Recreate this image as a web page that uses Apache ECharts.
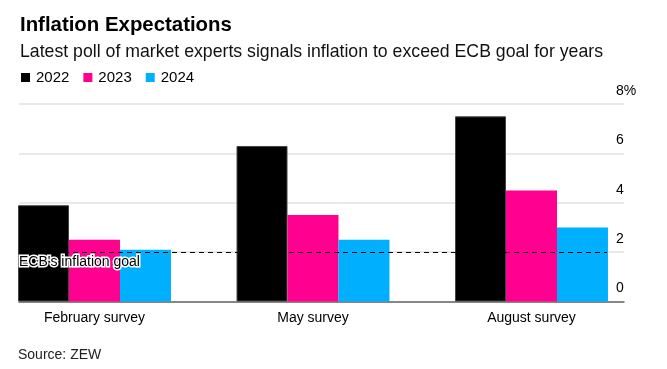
<!DOCTYPE html>
<html>
<head>
<meta charset="utf-8">
<script src="https://cdn.jsdelivr.net/npm/echarts@6/dist/echarts.min.js"></script>
<style>
html,body{margin:0;padding:0;background:#fff;}
#chart{width:667px;height:369px;}
</style>
</head>
<body>
<div id="chart"></div>
<script>
const categories = ['February survey', 'May survey', 'August survey'];
const years = ['2022', '2023', '2024'];
const values2022 = [3.9, 6.3, 7.5];
const values2023 = [2.5, 3.5, 4.5];
const values2024 = [2.1, 2.5, 3.0];
const goalValue = 2;
const goalLabel = "ECB's inflation goal";
const yTicks = [0, 2, 4, 6, 8];
const colors = ['#000000', '#ff0090', '#00b0ff'];

const FONT = "'Liberation Sans', Arial, sans-serif";
const chart = echarts.init(document.getElementById('chart'), null, {renderer: 'canvas'});

const gridTop = 104, gridBottom = 67.5;

const seriesValues = [values2022, values2023, values2024];
const barSeries = years.map((y, i) => ({
  name: y,
  type: 'bar',
  xAxisIndex: 0,
  yAxisIndex: 0,
  data: seriesValues[i],
  barGap: '0%',
  barCategoryGap: '30%',
  itemStyle: {
    color: colors[i],
    borderColor: i === 0 ? '#444' : colors[i],
    borderWidth: i === 0 ? 1 : 0
  },
  z: 3
}));

const option = {
  animation: false,
  backgroundColor: '#fff',
  textStyle: {fontFamily: FONT},
  title: [{
    text: 'Inflation Expectations',
    left: 15,
    top: 10,
    textStyle: {fontFamily: FONT, fontSize: 20.4, fontWeight: 'bold', color: '#000'}
  }, {
    text: 'Latest poll of market experts signals inflation to exceed ECB goal for years',
    left: 15,
    top: 38,
    textStyle: {fontFamily: FONT, fontSize: 17.7, fontWeight: 'normal', color: '#111'}
  }, {
    text: 'Source: ZEW',
    left: 13,
    top: 343,
    textStyle: {fontFamily: FONT, fontSize: 14, fontWeight: 'normal', color: '#222'}
  }],
  legend: {
    data: years,
    left: 16,
    top: 65,
    icon: 'rect',
    itemWidth: 9,
    itemHeight: 9,
    itemGap: 14,
    itemStyle: {borderWidth: 0},
    textStyle: {fontFamily: FONT, fontSize: 15, color: '#000', padding: [0, 0, 0, 1]}
  },
  grid: [
    {left: 94.5, right: 667 - 531.5, top: gridTop, bottom: gridBottom},
    {left: 19, right: 667 - 624, top: gridTop, bottom: gridBottom},
    {left: 19, right: 667 - 607, top: gridTop, bottom: gridBottom}
  ],
  xAxis: [{
    type: 'category',
    gridIndex: 0,
    data: categories,
    boundaryGap: false,
    axisLine: {show: false},
    axisTick: {show: false},
    axisLabel: {fontFamily: FONT, fontSize: 14, color: '#000', margin: 10}
  }, {
    type: 'value',
    gridIndex: 1,
    min: 0, max: 1,
    axisLine: {show: true, onZero: false, lineStyle: {color: '#666', width: 1.5}},
    axisTick: {show: false},
    axisLabel: {show: false},
    splitLine: {show: false}
  }, {
    type: 'value',
    gridIndex: 2,
    min: 0, max: 1,
    show: false
  }],
  yAxis: [{
    type: 'value',
    gridIndex: 0,
    min: 0, max: 8, interval: 2,
    show: false
  }, {
    type: 'value',
    gridIndex: 1,
    position: 'right',
    min: yTicks[0], max: yTicks[yTicks.length - 1], interval: 2,
    axisLine: {show: false},
    axisTick: {show: false},
    splitLine: {show: true, lineStyle: {color: '#e2e2e2', width: 1.5}},
    axisLabel: {
      fontFamily: FONT, fontSize: 14, color: '#000',
      margin: -8,
      align: 'left',
      verticalAlign: 'bottom',
      padding: [0, 0, 6, 0],
      formatter: v => (v === yTicks[yTicks.length - 1] ? v + '%' : String(v))
    }
  }, {
    type: 'value',
    gridIndex: 2,
    min: 0, max: 8, interval: 2,
    show: false
  }],
  series: barSeries.concat([{
    type: 'line',
    name: 'goal',
    xAxisIndex: 2,
    yAxisIndex: 2,
    data: [],
    silent: true,
    z: 5,
    markLine: {
      silent: true,
      symbol: 'none',
      lineStyle: {type: [5, 4], color: '#000', width: 1.2},
      label: {
        show: true,
        position: 'insideStartBottom',
        distance: [0, 3],
        formatter: goalLabel,
        fontFamily: FONT,
        fontSize: 14,
        color: '#000',
        textBorderColor: '#fff',
        textBorderWidth: 3
      },
      data: [{yAxis: goalValue}]
    }
  }])
};
chart.setOption(option);
</script>
</body>
</html>
